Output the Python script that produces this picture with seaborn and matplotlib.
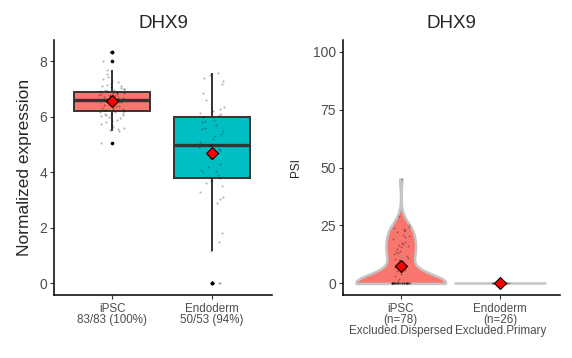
import numpy as np
import pandas as pd
import seaborn as sns
import matplotlib.pyplot as plt

# ---- data ----
gene = "DHX9"
groups = ["iPSC", "Endoderm"]
expr_ticklabels = ["iPSC\n83/83 (100%)", "Endoderm\n50/53 (94%)"]
psi_ticklabels = ["iPSC\n(n=78)\nExcluded.Dispersed", "Endoderm\n(n=26)\nExcluded.Primary"]
palette = {"iPSC": "#F8766D", "Endoderm": "#00BFC4"}

ipsc_expr = [
    5.05, 5.5, 5.52, 5.55, 5.6, 5.65, 5.7, 5.75, 5.8, 5.85, 5.9, 5.95, 6.0, 6.02,
    6.05, 6.08, 6.1, 6.12, 6.14, 6.16, 6.18, 6.22, 6.25, 6.28, 6.3, 6.32, 6.35,
    6.38, 6.4, 6.42, 6.44, 6.46, 6.48, 6.5, 6.52, 6.53, 6.55, 6.56, 6.57, 6.58,
    6.59, 6.6, 6.61, 6.62, 6.63, 6.65, 6.66, 6.68, 6.7, 6.71, 6.72, 6.74, 6.75,
    6.77, 6.78, 6.8, 6.82, 6.83, 6.85, 6.86, 6.87, 6.88, 6.92, 6.94, 6.96, 6.98,
    7.0, 7.02, 7.05, 7.08, 7.1, 7.12, 7.15, 7.2, 7.25, 7.3, 7.35, 7.45, 7.55, 7.7,
    8.0, 8.35, 8.35,
]
endo_expr = [
    0.0, 0.0, 0.0, 1.15, 1.5, 1.8, 2.9, 3.05, 3.1, 3.3, 3.5, 3.6, 3.7, 3.8, 3.9,
    4.0, 4.05, 4.1, 4.2, 4.3, 4.5, 4.6, 4.7, 4.8, 4.85, 4.9, 4.97, 5.0, 5.1, 5.2,
    5.3, 5.4, 5.5, 5.55, 5.6, 5.7, 5.8, 5.85, 5.9, 6.0, 6.05, 6.1, 6.15, 6.2,
    6.3, 6.35, 6.6, 6.85, 7.2, 7.3, 7.4, 7.5, 7.57,
]
ipsc_psi = [
    0, 0, 0, 0, 0, 0, 0, 0, 0, 0, 0, 0, 0, 0, 0, 0, 0, 0, 0, 0,
    0, 0, 0, 0, 0, 0, 0, 0, 0, 0, 0, 0, 0, 0, 0, 0, 0, 0, 0, 0,
    1, 2, 3, 4, 5, 5.5, 6, 7, 8, 9, 10, 10.5, 11, 12, 12.5, 13, 13.5, 14, 15,
    15.5, 16, 16.5, 17, 17.5, 18, 19, 20, 20.5, 21, 22, 22.5, 23, 23.5, 24,
    24.5, 25, 29, 45,
]
endo_psi = [
    0, 0, 0, 0, 0, 0, 0, 0, 0, 0, 0, 0, 0,
    0, 0, 0, 0, 0, 0, 0, 0, 0, 0, 0, 0, 0,
]

expr_df = pd.DataFrame({
    "group": ["iPSC"] * len(ipsc_expr) + ["Endoderm"] * len(endo_expr),
    "value": ipsc_expr + endo_expr,
})
psi_df = pd.DataFrame({
    "group": ["iPSC"] * len(ipsc_psi) + ["Endoderm"] * len(endo_psi),
    "value": ipsc_psi + endo_psi,
})

sns.set_style("ticks")
plt.rcParams["font.family"] = ["Liberation Sans", "DejaVu Sans"]
np.random.seed(7)

fig = plt.figure(figsize=(5.72, 3.58), dpi=100)
ax1 = fig.add_axes([54 / 572, 63 / 358, 218 / 572, 255 / 358])
ax2 = fig.add_axes([343 / 572, 63 / 358, 217 / 572, 255 / 358])

# ---- left: expression boxplot ----
sns.boxplot(data=expr_df, x="group", y="value", hue="group", order=groups,
            palette=palette, saturation=1, width=0.76, linewidth=1.4,
            linecolor="#333333", showcaps=False, legend=False,
            medianprops=dict(linewidth=2.4),
            flierprops=dict(marker="o", markersize=1.6, markerfacecolor="black",
                            markeredgecolor="black"),
            ax=ax1)
sns.stripplot(data=expr_df, x="group", y="value", order=groups, color="black",
              alpha=0.3, size=1.5, jitter=0.13, ax=ax1, zorder=3)
sns.pointplot(data=expr_df, x="group", y="value", order=groups, estimator="mean",
              errorbar=None, markers="D", linestyle="none", color="red",
              markersize=6.5, markeredgecolor="black", markeredgewidth=0.8,
              ax=ax1, zorder=5)

# ---- right: PSI violin ----
sns.violinplot(data=psi_df, x="group", y="value", hue="group", order=groups,
               palette=palette, saturation=1, cut=0, density_norm="width",
               width=0.9, inner=None, linewidth=1.8, linecolor="#C4C4C4",
               bw_adjust=0.9, legend=False, ax=ax2)
sns.stripplot(data=psi_df, x="group", y="value", order=groups, color="black",
              alpha=0.35, size=1.3, jitter=0.09, ax=ax2, zorder=3)
sns.pointplot(data=psi_df, x="group", y="value", order=groups, estimator="mean",
              errorbar=None, markers="D", linestyle="none", color="red",
              markersize=6.5, markeredgecolor="black", markeredgewidth=0.8,
              ax=ax2, zorder=5)

# ---- axes styling ----
for ax, labels, ylab, ysize, lpad in [
    (ax1, expr_ticklabels, "Normalized expression", 12.5, 5.5),
    (ax2, psi_ticklabels, "PSI", 8.5, 8),
]:
    ax.set_title(gene, fontsize=13.5, pad=9)
    ax.set_xlabel("")
    ax.set_ylabel(ylab, fontsize=ysize, labelpad=lpad)
    ax.set_xlim(-0.58, 1.6)
    ax.set_xticks([0, 1])
    ax.set_xticklabels(labels, fontsize=8.4, linespacing=0.88)
    sns.despine(ax=ax)
    for s in ["left", "bottom"]:
        ax.spines[s].set_linewidth(1.1)
        ax.spines[s].set_color("black")
    ax.tick_params(axis="both", length=3, width=0.8, color="#333333",
                   labelcolor="#4D4D4D", pad=2)
    ax.tick_params(axis="x", pad=3)
    ax.tick_params(axis="y", labelsize=10)

ax1.set_ylim(-0.42, 8.77)
ax1.set_yticks([0, 2, 4, 6, 8])
ax2.set_ylim(-5, 105)
ax2.set_yticks([0, 25, 50, 75, 100])

fig.savefig("out.png", dpi=100)
